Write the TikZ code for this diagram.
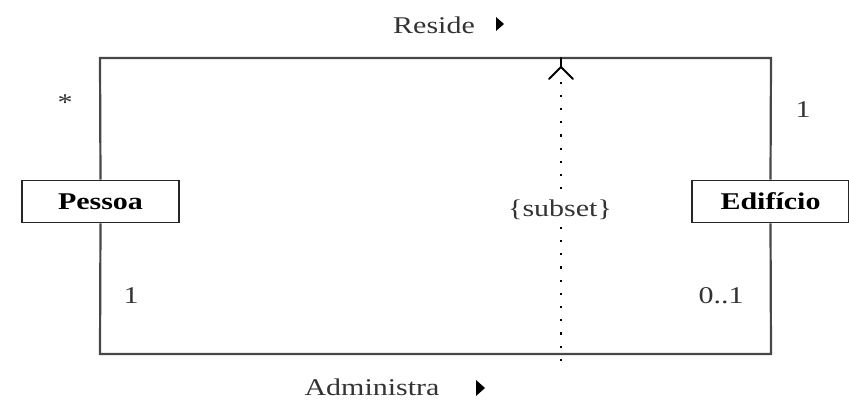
\documentclass[tikz,border=0pt]{standalone}
\usepackage{fontspec}
\setmainfont[FakeStretch=1.25]{Liberation Serif}
\usetikzlibrary{arrows.meta}
\begin{document}
\begin{tikzpicture}[x=1pt,y=-1pt,
  cls/.style={draw=black!85,line width=1.8pt,minimum width=157pt,minimum height=42pt,inner sep=0pt,font=\fontsize{24}{26}\selectfont\bfseries},
  assoc/.style={draw=black!72,line width=2.2pt},
  lbl/.style={font=\fontsize{24}{26}\selectfont,text=black!80,inner sep=1pt},
  tri/.style={fill=black,draw=none}]
\useasboundingbox (0,0) rectangle (849,403);
\node[cls] (p) at (100.5,201.5) {Pessoa};
\node[cls] (e) at (770.5,201.5) {Edifício};
\coordinate (tl) at (100,58);
\coordinate (tr) at (771,58);
\coordinate (bl) at (100,354);
\coordinate (br) at (771,354);
\coordinate (dt) at (561,58);
\coordinate (db) at (561,361);
\draw[assoc] (p.north) -- (tl) -- (tr) -- (e.north);
\draw[assoc] (p.south) -- (bl) -- (br) -- (e.south);
\draw[line width=2.2pt,dash pattern=on 2.2pt off 11pt,black] (db) -- ([yshift=-22pt]dt);
\draw[line width=2pt,line cap=round,line join=round] (dt) -- ([yshift=-9pt]dt);
\draw[line width=2pt,line cap=round,line join=round] ([xshift=-12pt,yshift=-21pt]dt) -- ([yshift=-9pt]dt) -- ([xshift=12pt,yshift=-21pt]dt);
\node[lbl,fill=white,inner sep=3pt] (sub) at (560,210) {\{subset\}};
\node[lbl] (reside) at (434,25) {Reside};
\fill[tri] (496,17) -- (504,24) -- (496,31) -- cycle;
\node[lbl] (adm) at (372,387) {Administra};
\fill[tri] (476,380) -- (485,388) -- (476,396) -- cycle;
\node[lbl] (m1) at (65,103) {*};
\node[lbl] (m2) at (803,110) {1};
\node[lbl] (m3) at (131,296) {1};
\node[lbl] (m4) at (721,296) {0..1};
\end{tikzpicture}
\end{document}
